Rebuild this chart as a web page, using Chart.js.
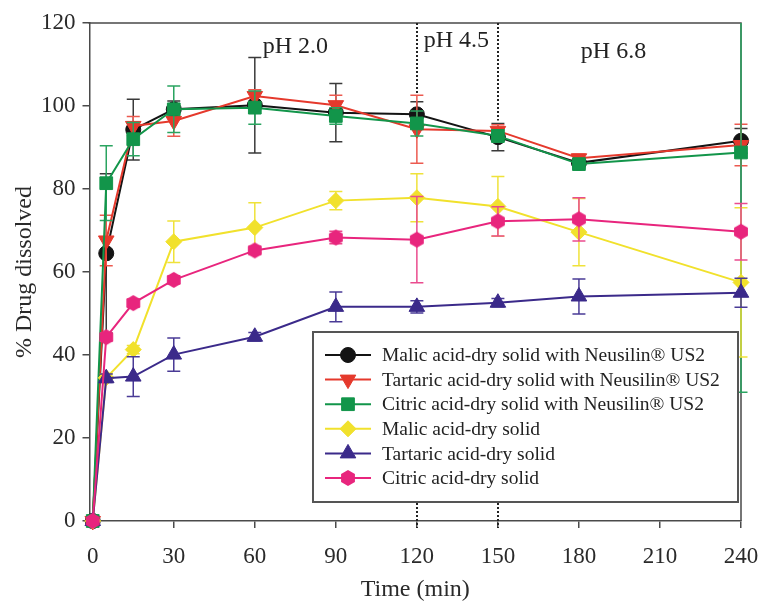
<!DOCTYPE html>
<html>
<head>
<meta charset="utf-8">
<script src="https://cdn.jsdelivr.net/npm/chart.js@4.4.1/dist/chart.umd.min.js"></script>
<style>
  html, body { margin: 0; padding: 0; background: #fff; }
  #wrap { width: 760px; height: 609px; }
</style>
</head>
<body>
<div id="wrap"><canvas id="c" width="760" height="609"></canvas></div>
<script>
// Sampling times (min)
const times = [0, 5, 15, 30, 60, 90, 120, 150, 180, 240];

const seriesNames = [
  'Malic acid-dry solid with Neusilin\u00AE US2',
  'Tartaric acid-dry solid with Neusilin\u00AE US2',
  'Citric acid-dry solid with Neusilin\u00AE US2',
  'Malic acid-dry solid',
  'Tartaric acid-dry solid',
  'Citric acid-dry solid'
];

// Mean % dissolved and standard deviations
const malicNeusilin      = [0, 64.5, 94.3, 99.2, 100.2, 98.4, 98.0, 92.5, 86.3, 91.6];
const malicNeusilinSD    = [0, 19.2, 7.3, 2.0, 11.5, 7.0, 3.0, 3.3, 1.0, 3.0];
const tartaricNeusilin   = [0, 67.6, 95.2, 96.4, 102.4, 100.2, 94.4, 94.0, 87.4, 90.6];
const tartaricNeusilinSD = [0, 6.1, 2.3, 3.7, 1.5, 2.4, 8.2, 1.5, 1.0, 5.0];
const citricNeusilin     = [0, 81.4, 92.0, 99.2, 99.6, 97.6, 95.8, 92.8, 86.0, 88.8];
const citricNeusilinSD   = [0, 9.0, 4.0, 5.6, 4.0, 2.0, 3.0, 1.5, 1.0, 57.8];
const malicDry           = [0, 34.5, 41.3, 67.3, 70.7, 77.2, 77.9, 75.8, 69.6, 57.5];
const malicDrySD         = [0, 1.0, 1.0, 5.0, 6.0, 2.2, 5.8, 7.2, 8.1, 18.0];
const tartaricDry        = [0, 34.4, 34.8, 40.1, 44.4, 51.6, 51.6, 52.6, 54.1, 55.0];
const tartaricDrySD      = [0, 1.0, 4.8, 4.0, 1.0, 3.6, 1.5, 1.0, 4.2, 3.5];
const citricDry          = [0, 44.3, 52.5, 58.1, 65.2, 68.3, 67.8, 72.2, 72.7, 69.7];
const citricDrySD        = [0, 1.0, 1.0, 1.0, 1.0, 1.5, 10.4, 3.5, 5.2, 6.8];

const xTickValues = [0, 30, 60, 90, 120, 150, 180, 210, 240];
const yTickValues = [0, 20, 40, 60, 80, 100, 120];

// Medium changes and pH stage labels
const phChangeTimes = [120, 150];
const phLabels = ['pH 2.0', 'pH 4.5', 'pH 6.8'];

const FONT = "'Liberation Serif', 'Times New Roman', serif";

// Hexagon marker (pointy top) as an image point style
function hexagonMarker(color, r) {
  const size = Math.ceil(r * 2 + 2);
  const cv = document.createElement('canvas');
  cv.width = size; cv.height = size;
  const g = cv.getContext('2d');
  g.fillStyle = color;
  g.beginPath();
  for (let k = 0; k < 6; k++) {
    const a = -Math.PI / 2 + k * Math.PI / 3;
    const px = size / 2 + r * Math.cos(a), py = size / 2 + r * Math.sin(a);
    if (k === 0) g.moveTo(px, py); else g.lineTo(px, py);
  }
  g.closePath();
  g.fill();
  return cv;
}

const styles = [
  { color: '#141414', bar: '#3a3a3a', pointStyle: 'circle',   radius: 7.5, rotation: 0 },
  { color: '#e5392c', bar: '#ec5a50', pointStyle: 'triangle', radius: 9,   rotation: 180 },
  { color: '#12954a', bar: '#2aa460', pointStyle: 'rect',     radius: 9,   rotation: 0 },
  { color: '#f1e12c', bar: '#efe23a', pointStyle: 'rectRot',  radius: 8,   rotation: 0 },
  { color: '#3b2a8a', bar: '#4a3b96', pointStyle: 'triangle', radius: 9,   rotation: 0 },
  { color: '#e8257d', bar: '#ea4b8e', pointStyle: null,       radius: 8,   rotation: 0 }
];
styles[5].pointStyle = hexagonMarker(styles[5].color, 8);

const means = [malicNeusilin, tartaricNeusilin, citricNeusilin, malicDry, tartaricDry, citricDry];
const sds = [malicNeusilinSD, tartaricNeusilinSD, citricNeusilinSD, malicDrySD, tartaricDrySD, citricDrySD];

const datasets = seriesNames.map((name, i) => ({
  label: name,
  data: times.map((t, j) => ({ x: t, y: means[i][j] })),
  sd: sds[i],
  errColor: styles[i].bar,
  borderColor: styles[i].color,
  backgroundColor: styles[i].color,
  borderWidth: 2,
  pointStyle: styles[i].pointStyle,
  pointRadius: styles[i].radius,
  pointRotation: styles[i].rotation,
  pointBackgroundColor: styles[i].color,
  pointBorderColor: styles[i].color,
  pointBorderWidth: 1,
  tension: 0,
  clip: false,
  order: seriesNames.length - 1 - i
}));

// Vertical error bars drawn just beneath each series
const errorBars = {
  id: 'errorBars',
  beforeDatasetDraw(chart, args) {
    const ds = chart.data.datasets[args.index];
    const meta = args.meta;
    const ys = chart.scales.y;
    const ca = chart.chartArea;
    const ctx = chart.ctx;
    ctx.save();
    ctx.beginPath();
    ctx.rect(ca.left - 10, ca.top, ca.right - ca.left + 20, ca.bottom - ca.top + 10);
    ctx.clip();
    ctx.strokeStyle = ds.errColor;
    ctx.lineWidth = 1.5;
    meta.data.forEach((pt, j) => {
      const sd = ds.sd[j];
      if (!sd) return;
      const v = ds.data[j].y;
      const yTop = ys.getPixelForValue(v + sd);
      const yBot = ys.getPixelForValue(v - sd);
      const x = pt.x;
      ctx.beginPath();
      ctx.moveTo(x, yTop); ctx.lineTo(x, yBot);
      ctx.moveTo(x - 6.5, yTop); ctx.lineTo(x + 6.5, yTop);
      ctx.moveTo(x - 6.5, yBot); ctx.lineTo(x + 6.5, yBot);
      ctx.stroke();
    });
    ctx.restore();
  }
};

// Plot frame (top and right edges)
const frame = {
  id: 'frame',
  beforeDatasetsDraw(chart) {
    const { ctx, chartArea: ca } = chart;
    ctx.save();
    ctx.strokeStyle = '#4a4a4a';
    ctx.lineWidth = 1.5;
    ctx.beginPath();
    ctx.moveTo(ca.left - 1, ca.top);
    ctx.lineTo(ca.right, ca.top);
    ctx.lineTo(ca.right, ca.bottom);
    ctx.stroke();
    ctx.restore();
  }
};

// Legend box inside the plot
const legendBox = {
  id: 'legendBox',
  afterDatasetsDraw(chart) {
    const { ctx, chartArea: ca } = chart;
    const left = ca.left + 223.5, right = ca.right - 3;
    const top = ca.top + 309, bottom = ca.bottom - 19;
    ctx.save();
    ctx.fillStyle = '#fff';
    ctx.fillRect(left, top, right - left, bottom - top);
    ctx.strokeStyle = '#555';
    ctx.lineWidth = 2;
    ctx.strokeRect(left, top, right - left, bottom - top);
    const rowH = 24.6;
    const y0 = top + 23;
    seriesNames.forEach((name, i) => {
      const y = y0 + i * rowH;
      const st = styles[i];
      ctx.strokeStyle = st.color;
      ctx.lineWidth = 2;
      ctx.beginPath();
      ctx.moveTo(left + 12, y); ctx.lineTo(left + 58, y);
      ctx.stroke();
      ctx.fillStyle = st.color;
      ctx.strokeStyle = st.color;
      ctx.lineWidth = 1;
      Chart.helpers.drawPoint(ctx, {
        pointStyle: st.pointStyle, radius: st.radius, rotation: st.rotation, borderWidth: 1
      }, left + 35, y);
      ctx.fillStyle = '#222';
      ctx.font = '19.5px ' + FONT;
      ctx.textAlign = 'left';
      ctx.textBaseline = 'middle';
      ctx.fillText(name, left + 69, y + 1);
    });
    ctx.restore();
  }
};

// pH stage labels and dotted medium-change markers
const phMarks = {
  id: 'phMarks',
  afterDatasetsDraw(chart) {
    const { ctx, chartArea: ca, scales: { x, y } } = chart;
    ctx.save();
    ctx.strokeStyle = '#222';
    ctx.lineWidth = 2;
    ctx.setLineDash([2, 2]);
    const topEnds = [103, 96.5];
    phChangeTimes.forEach((t, k) => {
      const px = Math.round(x.getPixelForValue(t));
      ctx.beginPath();
      ctx.moveTo(px, ca.top);
      ctx.lineTo(px, y.getPixelForValue(topEnds[k]));
      ctx.moveTo(px, ca.bottom - 18);
      ctx.lineTo(px, ca.bottom + 7);
      ctx.stroke();
    });
    ctx.setLineDash([]);
    ctx.fillStyle = '#222';
    ctx.font = '24px ' + FONT;
    ctx.textAlign = 'center';
    ctx.textBaseline = 'alphabetic';
    const labelAt = [[75, 112.7], [134.6, 114.3], [192.8, 111.5]];
    phLabels.forEach((txt, k) => {
      ctx.fillText(txt, x.getPixelForValue(labelAt[k][0]), y.getPixelForValue(labelAt[k][1]));
    });
    ctx.restore();
  }
};

new Chart(document.getElementById('c'), {
  type: 'line',
  data: { datasets },
  plugins: [frame, errorBars, phMarks, legendBox],
  options: {
    responsive: false,
    animation: false,
    devicePixelRatio: 1,
    layout: { padding: { left: 0, right: 19, top: 23, bottom: 0 } },
    plugins: { legend: { display: false }, tooltip: { enabled: false } },
    scales: {
      x: {
        type: 'linear',
        min: -1.2,
        max: 240,
        afterBuildTicks(s) { s.ticks = xTickValues.map(v => ({ value: v })); },
        afterFit(s) { s.height = 88; s.paddingLeft = 0; s.paddingRight = 0; },
        grid: { drawOnChartArea: false, drawTicks: true, tickLength: 7, color: '#4a4a4a', lineWidth: 1.5 },
        border: { color: '#4a4a4a', width: 1.5 },
        ticks: { font: { family: FONT, size: 23 }, color: '#2a2a2a', padding: 15, maxRotation: 0 },
        title: { display: true, text: 'Time (min)', font: { family: FONT, size: 24 }, color: '#2a2a2a', padding: { top: 0, bottom: 5 } }
      },
      y: {
        min: 0,
        max: 120,
        afterBuildTicks(s) { s.ticks = yTickValues.map(v => ({ value: v })); },
        afterFit(s) { s.width = 89.5; s.paddingTop = 0; s.paddingBottom = 0; },
        grid: { drawOnChartArea: false, drawTicks: true, tickLength: 7, color: '#4a4a4a', lineWidth: 1.5 },
        border: { color: '#4a4a4a', width: 1.5 },
        ticks: { font: { family: FONT, size: 23 }, color: '#2a2a2a', padding: 7 },
        title: { display: true, text: '% Drug dissolved', font: { family: FONT, size: 24 }, color: '#2a2a2a', padding: { top: 10, bottom: 0 } }
      }
    }
  }
});
</script>
</body>
</html>
